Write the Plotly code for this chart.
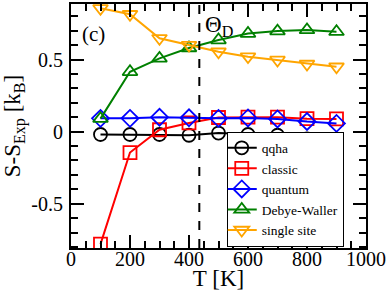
import plotly.graph_objects as go

T = [100, 200, 300, 400, 500, 600, 700, 800, 900]
qqha = [-0.02, -0.02, -0.02, -0.025, -0.01, -0.02, -0.025, -0.05, -0.075]
classic = [-0.78, -0.145, 0.013, 0.06, 0.098, 0.1, 0.1, 0.09, 0.088]
quantum = [0.092, 0.092, 0.1, 0.096, 0.092, 0.095, 0.088, 0.07, 0.057]
debye_waller = [0.09, 0.415, 0.508, 0.58, 0.635, 0.68, 0.697, 0.705, 0.693]
single_site = [0.855, 0.814, 0.647, 0.6, 0.554, 0.52, 0.497, 0.469, 0.45]
theta_D = 435

x_ticks = [0, 200, 400, 600, 800, 1000]
y_ticks = [-0.5, 0, 0.5]
y_ticktext = ["-0.5", "0", "0.5"]

series = [
    ("qqha", qqha, "black", "circle-open"),
    ("classic", classic, "red", "square-open"),
    ("quantum", quantum, "blue", "diamond-open"),
    ("Debye-Waller", debye_waller, "green", "triangle-up-open"),
    ("single site", single_site, "orange", "triangle-down-open"),
]

font = "Liberation Serif"
fig = go.Figure()
for name, vals, col, sym in series:
    fig.add_trace(go.Scatter(
        x=T, y=vals, name=name, mode="lines+markers",
        line=dict(color=col, width=2),
        marker=dict(symbol=sym, size=13, color=col, line=dict(color=col, width=1.8)),
    ))

fig.add_shape(type="line", xref="x", yref="paper", x0=theta_D, x1=theta_D, y0=0, y1=1,
              line=dict(color="black", width=2, dash="dash"))
fig.add_annotation(x=theta_D, y=0.885, xref="x", yref="y", xanchor="left", yanchor="top",
                   text="Θ<sub>D</sub>", showarrow=False, xshift=4, yshift=-6,
                   font=dict(family=font, size=23, color="black"))
fig.add_annotation(x=0, y=1, xref="paper", yref="paper", xanchor="left", yanchor="top",
                   text="(c)", showarrow=False, xshift=9, yshift=-16,
                   font=dict(family=font, size=21, color="black"))

axis_common = dict(showgrid=False, zeroline=False, showline=True, linecolor="black",
                   linewidth=2, mirror="allticks", ticks="inside", tickcolor="black",
                   tickwidth=2, ticklen=13, automargin=False,
                   tickfont=dict(family=font, size=20, color="black"))
fig.update_xaxes(range=[0, 1000], tickvals=x_ticks, ticklabelstandoff=-8,
                 minor=dict(dtick=50, ticks="inside", ticklen=7, tickwidth=2, tickcolor="black"),
                 title=dict(text="T [K]", font=dict(family=font, size=23, color="black"), standoff=0),
                 **axis_common)
fig.update_yaxes(range=[-0.807, 0.885], tickvals=y_ticks, ticktext=y_ticktext, ticklabelstandoff=2,
                 minor=dict(dtick=0.1, ticks="inside", ticklen=7, tickwidth=2, tickcolor="black"),
                 title=dict(text="S-S<sub>Exp</sub> [k<sub>B</sub>]", font=dict(family=font, size=23, color="black"), standoff=6),
                 **axis_common)

fig.update_layout(
    width=388, height=291, margin=dict(l=71, r=22, t=4, b=43),
    paper_bgcolor="white", plot_bgcolor="white",
    font=dict(family=font, color="black"),
    legend=dict(x=0.528, y=0.006, xanchor="left", yanchor="bottom", bgcolor="white",
                bordercolor="black", borderwidth=1, font=dict(family=font, size=13.5, color="black"),
                tracegroupgap=0, itemwidth=30, indentation=-6),
    showlegend=True,
)
fig.write_html("out.html", config={"displayModeBar": False},
               post_script="document.body.style.margin='0';document.body.style.padding='0';")
